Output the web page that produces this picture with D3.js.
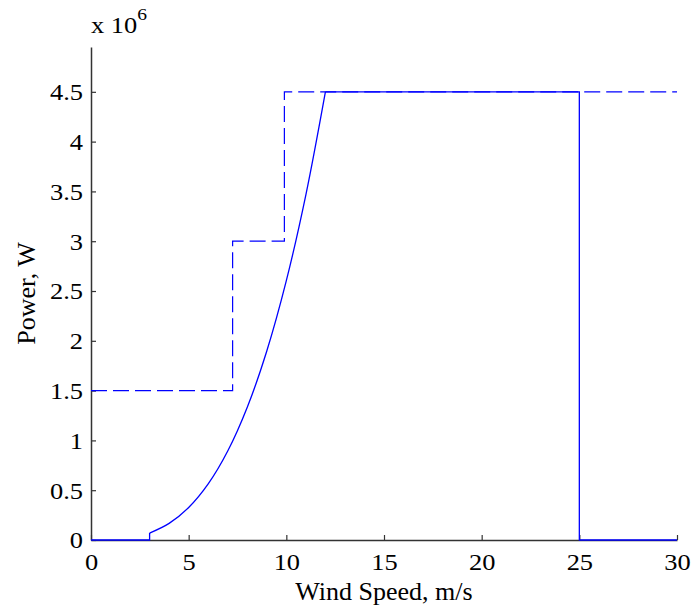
<!DOCTYPE html>
<html>
<head>
<meta charset="utf-8">
<script src="https://cdn.jsdelivr.net/npm/d3@7"></script>
<style>
  body { margin: 0; background: #fff; }
</style>
</head>
<body>
<div id="chart"></div>
<script>
// dati (potenza in MW, velocità in m/s)
const xTicks = [0, 5, 10, 15, 20, 25, 30];
const yTicks = [0, 0.5, 1, 1.5, 2, 2.5, 3, 3.5, 4, 4.5];

// curva continua: tratto nullo, salita da 3 a 12 m/s, tratto piatto fino a 25 m/s
const lowSpeed = [0, 3, 3];
const lowValue = [0, 0, 0.07];
const riseSpeed = [3, 4, 5, 6, 7, 8, 9, 10, 11, 12];
const riseValue = [0.07, 0.167, 0.326, 0.563, 0.893, 1.333, 1.898, 2.604, 3.466, 4.5];
const ratedSpeed = [12, 25, 25, 30];
const ratedValue = [4.5, 4.5, 0, 0];

// curva tratteggiata a gradini
const stepSpeed = [0, 7.25, 7.25, 9.9, 9.9, 30];
const stepValue = [1.5, 1.5, 3, 3, 4.5, 4.5];

const FONT = "Liberation Serif";
const STRETCH = 1.15; // le etichette dei tick nel grafico originale sono più larghe
const width = 692, height = 608;
const margin = { top: 47, right: 15, bottom: 68, left: 91 };
const innerW = width - margin.left - margin.right;
const innerH = height - margin.top - margin.bottom;

const svg = d3.select("#chart").append("svg")
    .attr("width", width)
    .attr("height", height);

const g = svg.append("g")
    .attr("transform", `translate(${margin.left},${margin.top})`);

const x = d3.scaleLinear().domain([0, 30]).range([0, innerW]);
const y = d3.scaleLinear().domain([0, 4.95]).range([innerH, 0]);

// assi (tick verso l'interno, stile MATLAB)
const xAxis = g.append("g")
    .attr("transform", `translate(0,${innerH})`)
    .call(d3.axisBottom(x).tickValues(xTicks).tickSize(-5).tickSizeOuter(0));
const yAxis = g.append("g")
    .call(d3.axisLeft(y).tickValues(yTicks).tickSize(-5).tickSizeOuter(0)
        .tickFormat(d => d3.format("")(d)));

[xAxis, yAxis].forEach(a => {
    a.attr("font-family", FONT);
    a.select(".domain").attr("stroke", "#333").attr("stroke-width", 1.5);
    a.selectAll(".tick line").attr("stroke", "#333").attr("stroke-width", 1.2);
    a.selectAll(".tick text")
        .attr("font-family", FONT)
        .attr("font-size", 23)
        .attr("fill", "#000")
        .attr("transform", `scale(${STRETCH},1)`);
});
xAxis.selectAll(".tick text").attr("x", 0).attr("y", 30).attr("dy", 0);
yAxis.selectAll(".tick text").attr("x", -8 / STRETCH).attr("dy", "0.34em");

// linea a gradini tratteggiata
const stepLine = d3.line()
    .x((d, i) => x(stepSpeed[i]))
    .y((d, i) => y(stepValue[i]));
g.append("path")
    .attr("d", stepLine(stepSpeed))
    .attr("fill", "none")
    .attr("stroke", "#0000ff")
    .attr("stroke-width", 1.2)
    .attr("stroke-dasharray", "16,6");

// curva di potenza, in tre tratti
function drawPower(xs, ys, curve) {
    const line = d3.line()
        .x((d, i) => x(xs[i]))
        .y((d, i) => y(ys[i]))
        .curve(curve);
    g.append("path")
        .attr("d", line(xs))
        .attr("fill", "none")
        .attr("stroke", "#0000ff")
        .attr("stroke-width", 1.3)
        .attr("stroke-linejoin", "miter");
}
drawPower(lowSpeed, lowValue, d3.curveLinear);
drawPower(riseSpeed, riseValue, d3.curveCatmullRom);
drawPower(ratedSpeed, ratedValue, d3.curveLinear);

// etichette
svg.append("text")
    .attr("x", margin.left + innerW / 2)
    .attr("y", 600)
    .attr("text-anchor", "middle")
    .attr("font-family", FONT)
    .attr("font-size", 26)
    .text("Wind Speed, m/s");

svg.append("text")
    .attr("transform", `translate(35,${margin.top + innerH / 2}) rotate(-90)`)
    .attr("text-anchor", "middle")
    .attr("font-family", FONT)
    .attr("font-size", 26)
    .text("Power, W");

const mult = svg.append("text")
    .attr("transform", `translate(91,33) scale(${STRETCH},1)`)
    .attr("font-family", FONT)
    .attr("font-size", 23);
mult.append("tspan").text("x 10");
mult.append("tspan").attr("dy", -13).attr("font-size", 17).text("6");
</script>
</body>
</html>
